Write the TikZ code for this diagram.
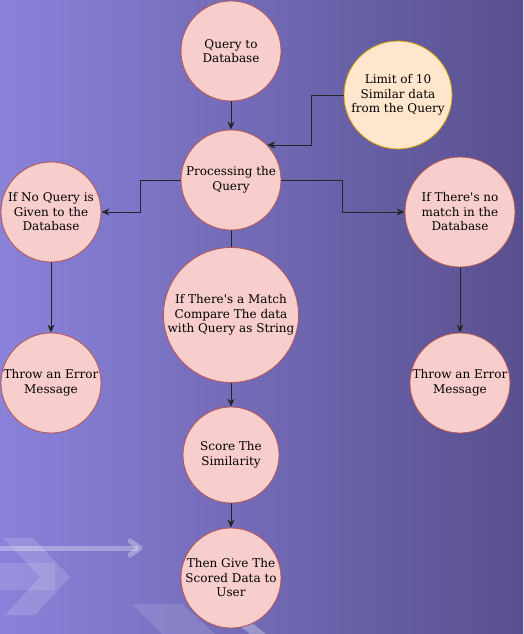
\documentclass[tikz,border=0pt]{standalone}
\usepackage{fontspec}
\setmainfont{DejaVu Serif}
\usetikzlibrary{positioning,arrows.meta}

\definecolor{bgleft}{RGB}{138,130,218}
\definecolor{bgmid}{RGB}{108,98,176}
\definecolor{bgright}{RGB}{88,80,142}
\definecolor{stepfill}{HTML}{F8CECC}
\definecolor{stepline}{HTML}{B85450}
\definecolor{notefill}{HTML}{FFE6CC}
\definecolor{noteline}{HTML}{D7A000}

\begin{document}
\begin{tikzpicture}[x=1pt,y=-1pt]
            \tikzset{
                stepnode/.style={circle,draw=stepline,fill=stepfill,line width=0.8pt,
                    minimum size=100pt,inner sep=0pt,align=center,
                    font=\fontsize{12}{14.5}\selectfont},
                notenode/.style={stepnode,draw=noteline,fill=notefill},
                flow/.style={draw=black!85,line width=0.9pt,
                    -{Stealth[length=8pt,width=7pt,inset=2.5pt]}},}
            % background
            \useasboundingbox (0,0) rectangle (523,634);
            \shade[left color=bgleft,middle color=bgmid,right color=bgright] (0,0) rectangle (523,634);
            \fill[white,opacity=0.15] (3,538) -- (33,538) -- (70,577) -- (35,615) -- (5,615) -- (40,577) -- cycle;
            \fill[white,opacity=0.12] (0,563) rectangle (55,590);
            \draw[white,opacity=0.3,line width=5pt] (0,548) -- (138,548);
            \draw[white,opacity=0.3,line width=5pt,line cap=round,line join=round] (130,541) -- (140,548) -- (130,555);
            \fill[white,opacity=0.12] (132,604) -- (182,604) -- (215,634) -- (162,634) -- cycle;
            \fill[white,opacity=0.3] (236,623) -- (252,623) -- (266,634) -- (250,634) -- cycle;
            % steps
            \node[stepnode] (query) at (231,51) {Query to\\Database};
            \node[stepnode] (proc) at (231,180) {Processing the\\Query};
            \node[notenode,minimum size=108pt] (limit) at (398,95) {Limit of 10\\Similar data\\from the Query};
            \node[stepnode] (noquery) at (51,212) {If No Query is\\Given to the\\Database};
            \node[stepnode,minimum size=110pt] (nomatch) at (460,212) {If There\textquotesingle s no\\match in the\\Database};
            \node[stepnode,minimum size=135pt] (match) at (231,315) {If There\textquotesingle s a Match\\Compare The data\\with Query as String};
            \node[stepnode] (errleft) at (51,383) {Throw an Error\\Message};
            \node[stepnode] (errright) at (460,383) {Throw an Error\\Message};
            \node[stepnode,minimum size=96pt] (score) at (231,455) {Score The\\Similarity};
            \node[stepnode] (give) at (231,578) {Then Give The\\Scored Data to\\User};
            % connectors
            \draw[flow] (query) -- (proc);
            \draw[flow] (limit.west) -- ++(-32,0) |- (proc.44);
            \draw[flow] (proc.west) -- ++(-40,0) |- (noquery.east);
            \draw[flow] (proc.east) -- ++(61,0) |- (nomatch.west);
            \draw[draw=black!85,line width=0.9pt] (proc) -- (match);
            \draw[flow] (noquery) -- (errleft);
            \draw[flow] (nomatch) -- (errright);
            \draw[flow] (match) -- (score);
            \draw[flow] (score) -- (give);
        \end{tikzpicture}
\end{document}
